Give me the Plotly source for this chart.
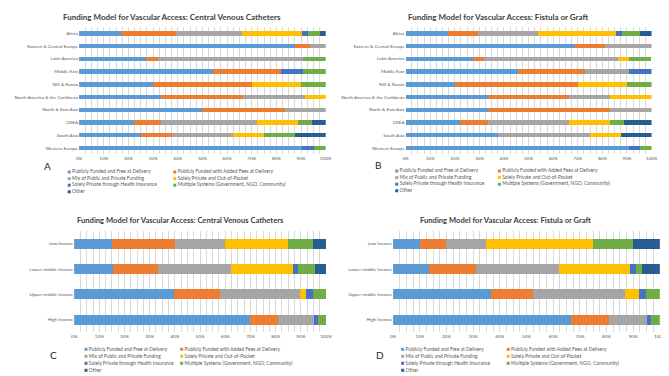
import plotly.graph_objects as go

W, H = 669, 376

series = [
    "Publicly Funded and Free at Delivery",
    "Publicly Funded with Added Fees at Delivery",
    "Mix of Public and Private Funding",
    "Solely Private and Out-of-Pocket",
    "Solely Private through Health Insurance",
    "Multiple Systems (Government, NGO, Community)",
    "Other",
]
colors = ["#5B9BD5", "#ED7D31", "#A5A5A5", "#FFC000", "#4472C4", "#70AD47", "#255E91"]

regions = ["Africa", "Eastern & Central Europe", "Latin America", "Middle East", "NIS & Russia",
           "North America & the Caribbean", "North & East Asia", "OSEA", "South Asia", "Western Europe"]
income = ["Low Income", "Lower-middle Income", "Upper-middle Income", "High Income"]

# values in percent, one list per series (order of categories above)
cvc_region = [
    [17.1, 87.5, 27.3, 54.5, 30, 33.3, 50, 22.2, 25, 90.5],
    [22.0, 6.25, 4.5, 27.3, 40, 33.3, 33.3, 11.1, 12.5, 0],
    [26.8, 6.25, 59.1, 0, 0, 25, 16.7, 38.9, 25, 0],
    [24.4, 0, 0, 0, 20, 8.4, 0, 16.7, 12.5, 0],
    [2.4, 0, 0, 9.1, 0, 0, 0, 0, 0, 4.75],
    [4.9, 0, 9.1, 9.1, 10, 0, 0, 5.6, 12.5, 4.75],
    [2.4, 0, 0, 0, 0, 0, 0, 5.6, 12.5, 0],
]
avf_region = [
    [17.1, 68.75, 27.3, 45.5, 20, 33.3, 33.3, 22.2, 37.5, 90.9],
    [12.2, 12.5, 4.5, 27.3, 50, 33.3, 50, 11.1, 0, 0],
    [24.4, 18.75, 54.5, 18.2, 0, 16.7, 16.7, 33.3, 37.5, 0],
    [31.7, 0, 4.5, 0, 20, 16.7, 0, 16.7, 12.5, 0],
    [2.4, 0, 0, 9.1, 0, 0, 0, 0, 0, 4.55],
    [7.3, 0, 9.1, 0, 10, 0, 0, 5.6, 0, 4.55],
    [4.9, 0, 0, 0, 0, 0, 0, 11.1, 12.5, 0],
]
cvc_income = [
    [15, 15.6, 39.5, 69.8],
    [25, 17.8, 18.4, 11.2],
    [20, 28.9, 31.6, 14.2],
    [25, 24.4, 2.6, 0],
    [0, 2.2, 2.6, 1.8],
    [10, 6.7, 5.3, 3.0],
    [5, 4.4, 0, 0],
]
avf_income = [
    [10, 13.3, 36.8, 66.6],
    [10, 17.8, 15.8, 14.4],
    [15, 31.1, 34.2, 14.3],
    [40, 26.7, 5.3, 0],
    [0, 2.2, 2.6, 1.5],
    [15, 2.2, 5.3, 3.2],
    [10, 6.7, 0, 0],
]

titles = ["Funding Model for Vascular Access: Central Venous Catheters",
          "Funding Model for Vascular Access: Fistula or Graft",
          "Funding Model for Vascular Access: Central Venous Catheters",
          "Funding Model for Vascular Access: Fistula or Graft"]
letters = ["A", "B", "C", "D"]

FONT = "Lato"
TXT = "#595959"


def px_x(a, b):
    return [a / W, b / W]


def px_y(top, bottom):
    return [1 - bottom / H, 1 - top / H]


panels = [
    dict(data=cvc_region, cats=regions, xd=(69, 319), yd=(19, 146.4), bw=0.34,
         title=(163, 9, 8), letter=(37, 158), leg=(59, 166, 164, 6.6)),
    dict(data=avf_region, cats=regions, xd=(400, 649.3), yd=(19, 146.4), bw=0.34,
         title=(494, 9, 8), letter=(372, 157), leg=(391, 495, 163, 6.6)),
    dict(data=cvc_income, cats=income, xd=(64, 319.3), yd=(223, 324.4), bw=0.4,
         title=(172, 212, 7.6), letter=(43, 347), leg=(76, 173, 341.3, 7)),
    dict(data=avf_income, cats=income, xd=(387.3, 657.7), yd=(223, 324.4), bw=0.4,
         title=(502, 212, 7.6), letter=(374, 347), leg=(397, 504, 341.3, 7)),
]

fig = go.Figure()
layout = dict(width=W, height=H, margin=dict(l=0, r=0, t=0, b=0), paper_bgcolor="white",
              plot_bgcolor="rgba(0,0,0,0)", barmode="stack", showlegend=False,
              font=dict(family=FONT, color=TXT), annotations=[])

for p_i, p in enumerate(panels):
    n = p_i + 1
    xa = "x" if n == 1 else f"x{n}"
    ya = "y" if n == 1 else f"y{n}"
    for s_i, name in enumerate(series):
        fig.add_trace(go.Bar(
            y=p["cats"], x=p["data"][s_i], orientation="h", name=name,
            marker=dict(color=colors[s_i], line=dict(width=0)), width=p["bw"],
            xaxis=xa, yaxis=ya, showlegend=False))
    layout[f"xaxis{'' if n == 1 else n}"] = dict(
        domain=px_x(*p["xd"]), anchor=ya, range=[0, 100], dtick=10, ticksuffix="%",
        showgrid=True, gridcolor="#D9D9D9", gridwidth=1, zeroline=False, showline=False,
        ticks="", tickfont=dict(size=4.6, color=TXT, family=FONT),
        minor=dict(dtick=2.5, showgrid=True, gridcolor="#D9D9D9", gridwidth=1),
        fixedrange=True)
    layout[f"yaxis{'' if n == 1 else n}"] = dict(
        domain=px_y(*p["yd"]), anchor=xa, autorange="reversed", type="category",
        showgrid=False, zeroline=False, showline=False, ticks="",
        tickfont=dict(size=4.6, color=TXT, family=FONT), fixedrange=True)
    tx, ty, ts = p["title"]
    layout["annotations"].append(dict(
        text=titles[p_i], x=tx / W, y=1 - ty / H, xref="paper", yref="paper",
        xanchor="center", yanchor="middle", showarrow=False,
        font=dict(family=FONT, size=ts, color="#404040", weight="bold")))
    lx, ly = p["letter"]
    layout["annotations"].append(dict(
        text=letters[p_i], x=lx / W, y=1 - ly / H, xref="paper", yref="paper",
        xanchor="center", yanchor="middle", showarrow=False,
        font=dict(family=FONT, size=10, color="#262626")))
    # legend drawn as a scatter on a pixel-space overlay axis
    c1, c2, r0, rh = p["leg"]
    lxs = [c1 if i % 2 == 0 else c2 for i in range(len(series))]
    lys = [r0 + (i // 2) * rh for i in range(len(series))]
    fig.add_trace(go.Scatter(
        x=lxs, y=lys, mode="markers+text", text=series, textposition="middle right",
        marker=dict(symbol="square", size=3, color=colors, line=dict(width=0)),
        textfont=dict(size=4.9, color=TXT, family=FONT),
        xaxis="x9", yaxis="y9", showlegend=False, hoverinfo="skip", cliponaxis=False))

layout["xaxis9"] = dict(domain=[0, 1], anchor="y9", range=[0, W], visible=False, fixedrange=True)
layout["yaxis9"] = dict(domain=[0, 1], anchor="x9", range=[H, 0], visible=False, fixedrange=True)

fig.update_layout(**layout)
fig.write_html("out.html")
